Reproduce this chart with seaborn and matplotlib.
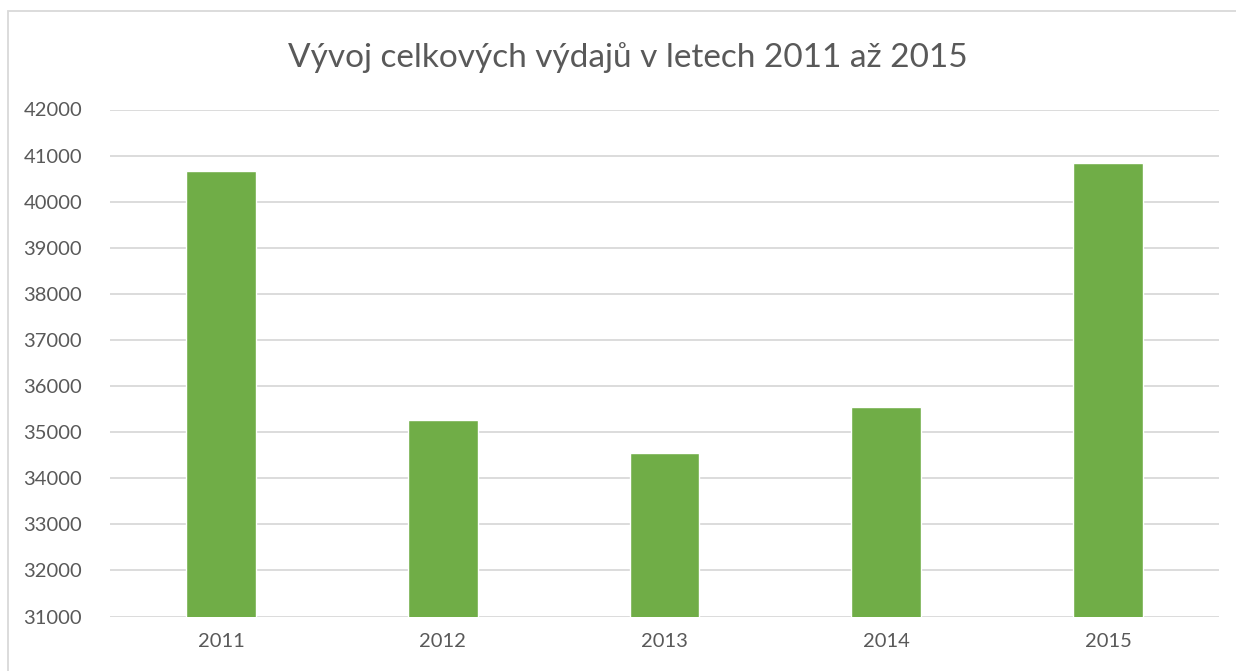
import pandas as pd
import matplotlib.pyplot as plt
import seaborn as sns
from matplotlib.patches import Rectangle

years = ["2011", "2012", "2013", "2014", "2015"]
spending = [40662, 35268, 34557, 35550, 40835]

df = pd.DataFrame({"rok": years, "vydaje": spending})

sns.set_theme(style="white")
plt.rcParams["font.family"] = ["Lato", "DejaVu Sans"]

fig = plt.figure(figsize=(12.36, 6.71), dpi=100)
ax = fig.add_axes([110 / 1236, 1 - 616.5 / 671, 1109 / 1236, 507 / 671])

sns.barplot(data=df, x="rok", y="vydaje", color="#70ad47", width=0.315,
            saturation=1, ax=ax, zorder=3)

ax.set_ylim(31000, 42000)
ax.set_yticks(range(31000, 42001, 1000))
ax.set_xlim(-0.5, 4.5)
ax.grid(axis="y", color="#d9d9d9", linewidth=1.3, zorder=0)
ax.set_axisbelow(True)
for s in ax.spines.values():
    s.set_visible(False)
ax.set_xlabel("")
ax.set_ylabel("")
ax.tick_params(axis="both", colors="#595959", labelsize=14.5, length=0)
ax.tick_params(axis="y", pad=20)
ax.tick_params(axis="x", pad=12)

fig.text(628 / 1236, 1 - 58 / 671, "Vývoj celkových výdajů v letech 2011 až 2015",
         ha="center", va="center", fontsize=24, color="#595959")

# chart area border
fig.patches.append(Rectangle((8 / 1236, -0.05), 1.2, 1 - 11 / 671 + 0.05,
                             transform=fig.transFigure, fill=False,
                             edgecolor="#d9d9d9", linewidth=1.3))

fig.savefig("out.png", dpi=100)
